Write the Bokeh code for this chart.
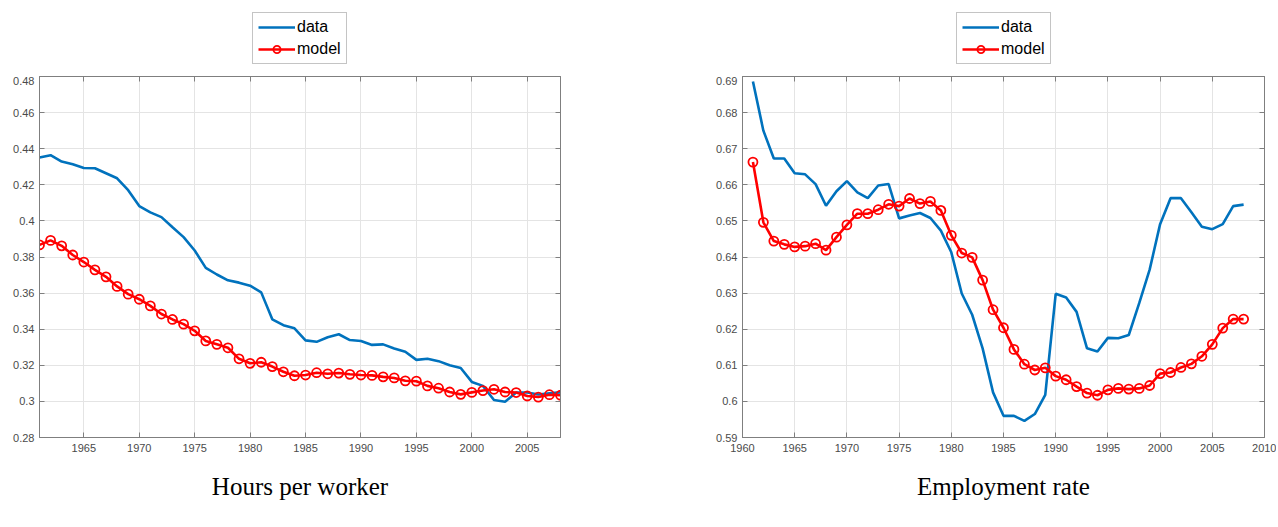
from bokeh.plotting import figure
from bokeh.models import (Legend, LegendItem, LinearAxis, FixedTicker,
                          PrintfTickFormatter, Range1d, Title)
from bokeh.layouts import row, column
from bokeh.embed import file_html
from bokeh.resources import INLINE

years = list(range(1961, 2009))

hours_data = [0.4351, 0.4364, 0.4329, 0.4314, 0.4293, 0.4292, 0.4264, 0.4236, 0.4170, 0.4082,
              0.4047, 0.4021, 0.3965, 0.3910, 0.3836, 0.3740, 0.3703, 0.3671, 0.3658, 0.3641,
              0.3604, 0.3455, 0.3422, 0.3405, 0.3338, 0.3330, 0.3355, 0.3372, 0.3340, 0.3335,
              0.3313, 0.3316, 0.3293, 0.3275, 0.3230, 0.3236, 0.3223, 0.3200, 0.3185, 0.3108,
              0.3086, 0.3008, 0.2998, 0.3049, 0.3049, 0.3038, 0.3045, 0.3050]
hours_model = [0.3867, 0.3892, 0.3862, 0.3811, 0.3772, 0.3729, 0.3690, 0.3637, 0.3594, 0.3566,
               0.3529, 0.3484, 0.3454, 0.3428, 0.3391, 0.3335, 0.3316, 0.3297, 0.3236, 0.3211,
               0.3217, 0.3193, 0.3164, 0.3142, 0.3146, 0.3159, 0.3153, 0.3157, 0.3150, 0.3146,
               0.3144, 0.3136, 0.3130, 0.3114, 0.3112, 0.3086, 0.3073, 0.3052, 0.3039, 0.3050,
               0.3060, 0.3067, 0.3052, 0.3049, 0.3030, 0.3024, 0.3037, 0.3034]

emp_data = [0.6886, 0.6750, 0.6673, 0.6673, 0.6632, 0.6629, 0.6602, 0.6542, 0.6582, 0.6610,
            0.6579, 0.6563, 0.6598, 0.6602, 0.6507, 0.6515, 0.6522, 0.6508, 0.6473, 0.6413,
            0.6299, 0.6240, 0.6147, 0.6025, 0.5960, 0.5960, 0.5946, 0.5965, 0.6018, 0.6298,
            0.6288, 0.6248, 0.6147, 0.6138, 0.6176, 0.6175, 0.6184, 0.6272, 0.6365, 0.6491,
            0.6563, 0.6563, 0.6524, 0.6484, 0.6477, 0.6491, 0.6541, 0.6545]
emp_model = [0.6663, 0.6496, 0.6444, 0.6435, 0.6428, 0.6430, 0.6437, 0.6419, 0.6455, 0.6489,
             0.6520, 0.6520, 0.6531, 0.6546, 0.6541, 0.6562, 0.6548, 0.6554, 0.6529, 0.6460,
             0.6411, 0.6399, 0.6336, 0.6254, 0.6204, 0.6144, 0.6103, 0.6087, 0.6093, 0.6070,
             0.6060, 0.6041, 0.6023, 0.6017, 0.6032, 0.6036, 0.6034, 0.6036, 0.6044, 0.6077,
             0.6080, 0.6094, 0.6104, 0.6125, 0.6158, 0.6203, 0.6228, 0.6228]

hours_xticks = [1965, 1970, 1975, 1980, 1985, 1990, 1995, 2000, 2005]
hours_yticks = [0.28, 0.30, 0.32, 0.34, 0.36, 0.38, 0.40, 0.42, 0.44, 0.46, 0.48]
emp_xticks = [1960, 1965, 1970, 1975, 1980, 1985, 1990, 1995, 2000, 2005, 2010]
emp_yticks = [0.59, 0.60, 0.61, 0.62, 0.63, 0.64, 0.65, 0.66, 0.67, 0.68, 0.69]

series_labels = ["data", "model"]
titles = ["Hours per worker", "Employment rate"]

BLUE = "#0072BD"
RED = "#FF0000"
AXIS = "#7f7f7f"
TICKTXT = "#4a4a4a"
GRID = "#e4e4e4"
SANS = "Liberation Sans"
SERIF = "Liberation Serif"


def draw_series(p, data, model):
    r_data = p.line(years, data, line_color=BLUE, line_width=2.6)
    r_model = p.line(years, model, line_color=RED, line_width=2.6)
    r_mark = p.scatter(years, model, marker="circle", size=9, fill_color=None,
                       line_color=RED, line_width=1.8)
    return r_data, r_model, r_mark


def make_legend_fig(data, model, width, legend_x):
    # a strip above the plot that only carries the legend
    q = figure(width=width, height=76, x_range=Range1d(0, 1), y_range=Range1d(0, 1),
               output_backend="svg", toolbar_location=None,
               x_axis_location=None, y_axis_location=None,
               min_border_left=0, min_border_right=0, min_border_top=0,
               min_border_bottom=0, outline_line_color=None)
    q.xgrid.visible = False
    q.ygrid.visible = False
    r_data, r_model, r_mark = draw_series(q, data, model)
    legend = Legend(items=[LegendItem(label=series_labels[0], renderers=[r_data]),
                           LegendItem(label=series_labels[1], renderers=[r_model, r_mark])],
                    location=(legend_x, 12), orientation="vertical",
                    border_line_color="#8a8a8a", border_line_width=1,
                    background_fill_color="white", background_fill_alpha=1,
                    label_text_font=SANS, label_text_font_size="16px",
                    label_text_color="black", glyph_width=37, glyph_height=18,
                    label_height=18, label_standoff=2, spacing=4, padding=5,
                    margin=0)
    q.add_layout(legend, "center")
    return q


def make_panel(title, data, model, xr, yr, xticks, yticks, width, bl, br):
    p = figure(width=width, height=449, x_range=Range1d(*xr), y_range=Range1d(*yr),
               output_backend="svg", toolbar_location=None,
               min_border_left=bl, min_border_right=br, min_border_top=0,
               min_border_bottom=88, background_fill_color="white",
               border_fill_color="white")
    p.outline_line_color = AXIS
    p.outline_line_width = 1
    for ax in (p.xaxis[0], p.yaxis[0]):
        ax.axis_line_color = AXIS
        ax.major_tick_line_color = AXIS
        ax.major_tick_in = 5
        ax.major_tick_out = 0
        ax.minor_tick_line_color = None
        ax.major_label_text_font = SANS
        ax.major_label_text_font_size = "11px"
        ax.major_label_text_color = TICKTXT
    p.xaxis.ticker = FixedTicker(ticks=xticks)
    p.yaxis.ticker = FixedTicker(ticks=yticks)
    p.xaxis.formatter = PrintfTickFormatter(format="%d")
    p.yaxis.formatter = PrintfTickFormatter(format="%g")
    p.xaxis.major_label_standoff = 6
    p.yaxis.major_label_standoff = 5
    p.xgrid.grid_line_color = GRID
    p.ygrid.grid_line_color = GRID

    top = LinearAxis(ticker=FixedTicker(ticks=xticks), major_label_text_color=None,
                     axis_line_color=AXIS, major_tick_line_color=AXIS,
                     major_tick_in=5, major_tick_out=0, minor_tick_line_color=None,
                     major_label_standoff=0)
    right = LinearAxis(ticker=FixedTicker(ticks=yticks), major_label_text_color=None,
                       axis_line_color=AXIS, major_tick_line_color=AXIS,
                       major_tick_in=5, major_tick_out=0, minor_tick_line_color=None,
                       major_label_standoff=0)
    p.add_layout(top, "above")
    p.add_layout(right, "right")

    draw_series(p, data, model)

    t = Title(text=title, align="center", text_font=SERIF, text_font_size="25px",
              text_font_style="normal", text_color="black", standoff=33)
    p.add_layout(t, "below")
    return p


l1 = make_legend_fig(hours_data, hours_model, 620, 252)
l2 = make_legend_fig(emp_data, emp_model, 656, 336)
p1 = make_panel(titles[0], hours_data, hours_model, (1961, 2008), (0.28, 0.48),
                hours_xticks, hours_yticks, 620, 39, 60)
p2 = make_panel(titles[1], emp_data, emp_model, (1960, 2010), (0.59, 0.69),
                emp_xticks, emp_yticks, 656, 122, 12)

layout = column(row(l1, l2), row(p1, p2))
open("out.html", "w").write(file_html(layout, INLINE))
